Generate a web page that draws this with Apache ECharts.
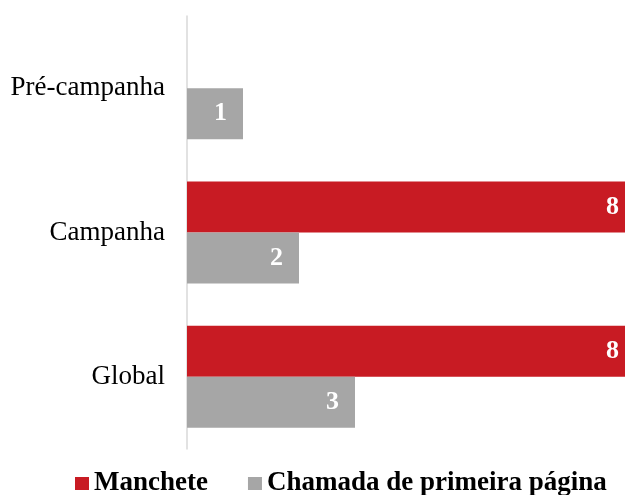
<!DOCTYPE html>
<html>
<head>
<meta charset="utf-8">
<script src="https://cdn.jsdelivr.net/npm/echarts@6/dist/echarts.min.js"></script>
<style>
  html, body { margin: 0; padding: 0; background: #fff; }
  #chart { width: 625px; height: 495px; }
</style>
</head>
<body>
<div id="chart"></div>
<script>
// categories, top to bottom
const categories = ["Pré-campanha", "Campanha", "Global"];
const manchete = [0, 8, 8];
const chamada = [1, 2, 3];

const serif = "'Liberation Serif', 'Times New Roman', serif";

const chart = echarts.init(document.getElementById("chart"));

function barLabel() {
  return {
    show: true,
    position: "insideRight",
    distance: 16,
    color: "#fff",
    fontFamily: serif,
    fontWeight: "bold",
    fontSize: 26,
    formatter: p => (p.value ? p.value : "")
  };
}

chart.setOption({
  animation: false,
  legend: {
    data: ["Manchete", "Chamada de primeira página"],
    left: 75,
    top: 470,
    padding: 0,
    icon: "rect",
    itemWidth: 14,
    itemHeight: 13,
    itemGap: 40,
    textStyle: {
      fontFamily: serif,
      fontWeight: "bold",
      fontSize: 27,
      lineHeight: 27,
      color: "#000"
    }
  },
  grid: {
    left: 187,
    width: 448,
    top: 16,
    bottom: 46,
    outerBoundsMode: "none"
  },
  xAxis: {
    type: "value",
    min: 0,
    max: 8,
    show: false
  },
  yAxis: {
    type: "category",
    inverse: true,
    data: categories,
    axisLine: { show: true, lineStyle: { color: "#D9D9D9", width: 1.5 } },
    axisTick: { show: false },
    axisLabel: {
      margin: 22,
      color: "#000",
      fontFamily: serif,
      fontSize: 27,
      padding: [4, 0, 0, 0]
    }
  },
  series: [
    {
      name: "Manchete",
      type: "bar",
      barWidth: 51,
      barGap: "0%",
      itemStyle: { color: "#C81B23" },
      label: barLabel(),
      data: manchete
    },
    {
      name: "Chamada de primeira página",
      type: "bar",
      barWidth: 51,
      barGap: "0%",
      itemStyle: { color: "#A6A6A6" },
      label: barLabel(),
      data: chamada
    }
  ]
});
</script>
</body>
</html>
